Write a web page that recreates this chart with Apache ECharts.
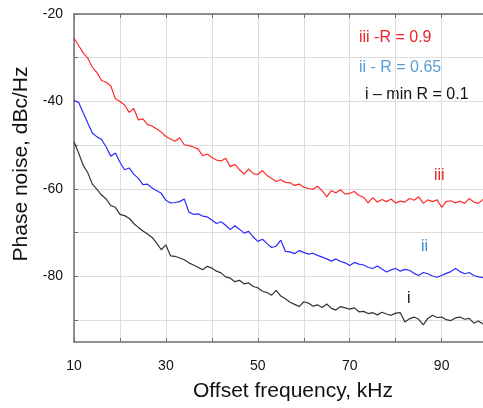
<!DOCTYPE html>
<html>
<head>
<meta charset="utf-8">
<script src="https://cdn.jsdelivr.net/npm/echarts@6/dist/echarts.min.js"></script>
<style>
  html, body { margin: 0; padding: 0; background: #fff; }
  #chart { width: 483px; height: 408px; }
</style>
</head>
<body>
<div id="chart"></div>
<script>
// offset frequency, kHz
const freqKHz = [
  10, 11, 12, 13, 14, 15, 16, 17, 18, 19, 20, 21, 22, 23, 24, 25, 26, 27, 28, 29,
  30, 31, 32, 33, 34, 35, 36, 37, 38, 39, 40, 41, 42, 43, 44, 45, 46, 47, 48, 49,
  50, 51, 52, 53, 54, 55, 56, 57, 58, 59, 60, 61, 62, 63, 64, 65, 66, 67, 68, 69,
  70, 71, 72, 73, 74, 75, 76, 77, 78, 79, 80, 81, 82, 83, 84, 85, 86, 87, 88, 89,
  90, 91, 92, 93, 94, 95, 96, 97, 98, 99
];

// iii - R = 0.9
const noiseIII = [
  -25.5, -27.2, -28.9, -30.1, -32.2, -33.4, -35.2, -35.6, -36.4, -39.4,
  -40.0, -40.8, -42.5, -41.6, -44.2, -44.0, -45.3, -45.6, -46.3, -47.0,
  -48.0, -48.6, -49.1, -48.3, -49.9, -50.1, -50.4, -50.9, -52.4, -52.0,
  -52.8, -53.4, -53.6, -53.0, -54.9, -54.4, -55.6, -56.6, -55.4, -56.5,
  -56.7, -55.8, -56.9, -57.6, -58.3, -57.9, -58.5, -58.6, -59.2, -58.9,
  -59.6, -59.9, -60.1, -59.4, -60.4, -61.8, -60.4, -60.9, -60.2, -61.2,
  -61.0, -60.6, -61.5, -61.9, -63.2, -62.0, -63.0, -62.4, -62.9, -62.3,
  -63.2, -62.8, -63.0, -62.2, -62.6, -61.8, -63.3, -62.5, -62.9, -62.5,
  -64.2, -62.9, -62.7, -63.2, -62.8, -63.3, -62.2, -63.0, -63.3, -62.4
];

// ii - R = 0.65
const noiseII = [
  -39.8, -40.2, -42.6, -44.9, -47.2, -48.1, -48.7, -50.4, -52.5, -51.8,
  -53.9, -55.6, -55.2, -56.6, -57.6, -59.0, -58.9, -59.8, -60.4, -61.0,
  -62.6, -63.2, -63.1, -62.9, -62.3, -65.3, -65.8, -65.7, -66.2, -66.4,
  -67.1, -67.9, -67.5, -68.3, -69.3, -68.4, -69.2, -70.1, -69.7, -71.0,
  -72.0, -71.5, -72.5, -73.4, -73.1, -71.7, -74.3, -74.4, -74.8, -74.1,
  -74.5, -74.9, -74.7, -75.2, -75.6, -76.0, -76.5, -76.0, -76.6, -76.9,
  -77.5, -76.8, -77.2, -77.4, -77.9, -78.2, -77.6, -78.3, -79.0, -78.5,
  -78.2, -78.8, -78.4, -78.6, -79.3, -79.8, -79.1, -79.4, -79.9, -80.2,
  -79.8, -79.3, -78.9, -78.2, -78.9, -79.4, -79.1, -79.8, -80.1, -80.3
];

// i - min R = 0.1
const noiseI = [
  -49.2, -51.8, -54.6, -56.3, -58.9, -60.1, -61.4, -62.3, -63.8, -64.2,
  -65.8, -66.1, -66.7, -67.9, -68.8, -69.6, -70.3, -71.1, -72.4, -73.9,
  -72.8, -75.3, -75.4, -75.8, -76.2, -76.9, -77.4, -77.9, -78.5, -77.7,
  -78.1, -78.8, -79.2, -80.1, -80.4, -81.2, -80.9, -81.7, -81.5, -82.3,
  -82.6, -83.4, -83.7, -84.3, -83.2, -84.5, -85.1, -85.9, -86.4, -86.9,
  -85.8, -86.1, -86.8, -86.5, -87.1, -86.3, -87.3, -87.7, -86.9, -87.2,
  -87.5, -87.2, -88.1, -88.0, -88.5, -88.3, -88.8, -88.2, -88.6, -88.9,
  -88.4, -88.3, -90.4, -89.7, -89.3, -89.8, -91.1, -89.6, -88.9, -89.4,
  -89.3, -89.9, -90.1, -89.5, -89.3, -89.8, -89.6, -90.7, -90.2, -90.9
];

const xTicks = [10, 20, 30, 40, 50, 60, 70, 80, 90];
const xLabels = [10, 30, 50, 70, 90];
const yTicks = [-90, -80, -70, -60, -50, -40, -30, -20];
const yLabels = [-80, -60, -40, -20];

const FONT = "'Liberation Sans', Arial, sans-serif";
const pairs = (ys) => freqKHz.map((f, i) => [f, ys[i]]);

const chart = echarts.init(document.getElementById("chart"), null, { renderer: "canvas" });

const frame = { show: true, lineStyle: { color: "#6e6e6e", width: 1.5 } };
const grid = { show: true, lineStyle: { color: "#dcdcdc", width: 1 } };

chart.setOption({
  animation: false,
  backgroundColor: "#fff",
  grid: { left: 74, right: 0, top: 14, bottom: 66 },
  xAxis: [
    {
      type: "value",
      min: 10,
      max: 99,
      name: "Offset frequency, kHz",
      nameLocation: "middle",
      nameGap: 39,
      nameTextStyle: { fontFamily: FONT, fontSize: 21, color: "#111", padding: [0, 0, 0, 29] },
      axisLine: frame,
      axisTick: { show: true, inside: true, length: 4, customValues: xTicks, lineStyle: { color: "#6e6e6e" } },
      axisLabel: { customValues: xLabels, margin: 17, fontFamily: FONT, fontSize: 14, color: "#111" },
      splitLine: grid
    },
    {
      type: "value",
      position: "top",
      min: 10,
      max: 99,
      axisLine: frame,
      axisTick: { show: true, inside: true, length: 4, customValues: xTicks, lineStyle: { color: "#6e6e6e" } },
      axisLabel: { show: false },
      splitLine: { show: false }
    }
  ],
  yAxis: {
    type: "value",
    min: -95,
    max: -20,
    name: "Phase noise, dBc/Hz",
    nameLocation: "middle",
    nameGap: 35,
    nameTextStyle: { fontFamily: FONT, fontSize: 21, color: "#111", padding: [0, 0, 0, 28] },
    axisLine: frame,
    axisTick: { show: true, inside: true, length: 4, customValues: yTicks, lineStyle: { color: "#6e6e6e" } },
    axisLabel: { customValues: yLabels, margin: 11, fontFamily: FONT, fontSize: 14, color: "#111" },
    splitLine: grid
  },
  series: [
    {
      name: "iii",
      type: "line",
      data: pairs(noiseIII),
      showSymbol: false,
      lineStyle: { color: "#ff2b2b", width: 1.2 }
    },
    {
      name: "ii",
      type: "line",
      data: pairs(noiseII),
      showSymbol: false,
      lineStyle: { color: "#2b2bff", width: 1.2 }
    },
    {
      name: "i",
      type: "line",
      data: pairs(noiseI),
      showSymbol: false,
      lineStyle: { color: "#333333", width: 1.2 }
    }
  ],
  graphic: [
    { type: "text", left: 359, top: 30, style: { text: "iii -R = 0.9", fill: "#ee2229", font: "16px " + FONT } },
    { type: "text", left: 359, top: 60, style: { text: "ii - R = 0.65", fill: "#5b9bd5", font: "16px " + FONT } },
    { type: "text", left: 365, top: 87, style: { text: "i \u2013 min R = 0.1", fill: "#111", font: "16px " + FONT } },
    { type: "text", left: 434, top: 168, style: { text: "iii", fill: "#ee2229", font: "16px " + FONT } },
    { type: "text", left: 421, top: 239, style: { text: "ii", fill: "#3b8fd0", font: "16px " + FONT } },
    { type: "text", left: 407, top: 291, style: { text: "i", fill: "#111", font: "16px " + FONT } }
  ]
});

window.addEventListener("resize", () => chart.resize());
</script>
</body>
</html>
